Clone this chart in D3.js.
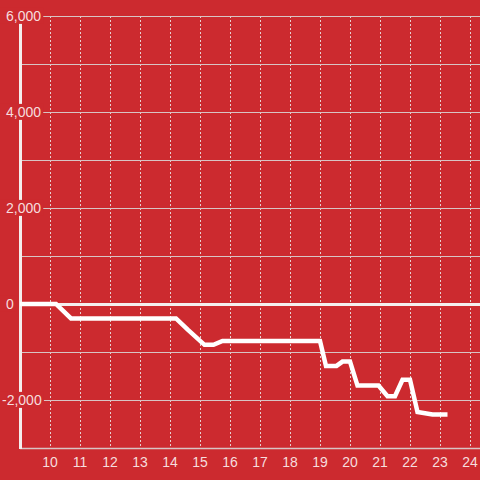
<!DOCTYPE html>
<html>
<head>
<meta charset="utf-8">
<script src="https://cdn.jsdelivr.net/npm/d3@7"></script>
<style>
  body { margin: 0; background: #cc2a2f; }
  svg { display: block; font-family: "Liberation Sans", Arial, sans-serif; }
  .tickLabel { fill: rgba(255,255,255,0.85); font-size: 14px; }
</style>
</head>
<body>
<div id="chart"></div>
<script>
// line values (hour of day -> running total)
var hours = [9, 10.2, 10.7, 14.2, 14.6, 15.15, 15.45, 15.75, 19, 19.2, 19.55, 19.75, 20, 20.25, 20.95, 21.25, 21.5, 21.75, 22, 22.25, 22.75, 23.25];
var totals = [0, 0, -300, -300, -540, -850, -850, -770, -770, -1290, -1290, -1200, -1200, -1700, -1700, -1920, -1920, -1580, -1580, -2250, -2300, -2300];

var xTicks = [10, 11, 12, 13, 14, 15, 16, 17, 18, 19, 20, 21, 22, 23, 24];
var yGrid = [6000, 5000, 4000, 3000, 2000, 1000, 0, -1000, -2000, -3000];
var yLabels = [6000, 4000, 2000, 0, -2000];

var W = 480, H = 480;
var plot = { left: 20, top: 16, bottom: 448 };

var svg = d3.select("#chart").append("svg")
  .attr("width", W)
  .attr("height", H);

svg.append("rect")
  .attr("width", W)
  .attr("height", H)
  .attr("fill", "#cc2a2f");

var x = d3.scaleLinear()
  .domain([9, 9 + (W - plot.left) / 30])
  .range([plot.left, W]);

var y = d3.scaleLinear()
  .domain([-3000, 6000])
  .range([plot.bottom, plot.top]);

// vertical dashed grid
svg.selectAll(".vgrid")
  .data(xTicks)
  .enter()
  .append("line")
  .attr("class", "vgrid")
  .attr("x1", function(d){ return Math.round(x(d)) + 0.5; })
  .attr("x2", function(d){ return Math.round(x(d)) + 0.5; })
  .attr("y1", plot.top)
  .attr("y2", plot.bottom)
  .attr("stroke", "#e6d0d0")
  .attr("stroke-width", 1)
  .attr("stroke-dasharray", "2,2");

// horizontal grid
svg.selectAll(".hgrid")
  .data(yGrid.filter(function(d){ return d !== 0; }))
  .enter()
  .append("line")
  .attr("class", "hgrid")
  .attr("x1", plot.left)
  .attr("x2", W)
  .attr("y1", function(d){ return Math.round(y(d)) + 0.5; })
  .attr("y2", function(d){ return Math.round(y(d)) + 0.5; })
  .attr("stroke", "#d8c4c4")
  .attr("stroke-width", function(d){ return d === -3000 ? 1.5 : 1; });

// zero line
svg.append("line")
  .attr("x1", plot.left)
  .attr("x2", W)
  .attr("y1", y(0) + 0.5)
  .attr("y2", y(0) + 0.5)
  .attr("stroke", "#f4eeee")
  .attr("stroke-width", 3);

// left axis line
svg.append("line")
  .attr("x1", plot.left + 0.5)
  .attr("x2", plot.left + 0.5)
  .attr("y1", plot.top - 4)
  .attr("y2", plot.bottom + 1)
  .attr("stroke", "#f4eeee")
  .attr("stroke-width", 3);

// data line
var line = d3.line()
  .x(function(d, i){ return x(hours[i]); })
  .y(function(d){ return y(d); });

svg.append("path")
  .datum(totals)
  .attr("d", line)
  .attr("fill", "none")
  .attr("stroke", "#ffffff")
  .attr("stroke-width", 4.5)
  .attr("stroke-linejoin", "miter");

// y labels with background boxes
var yLab = svg.selectAll(".ylab")
  .data(yLabels)
  .enter()
  .append("g")
  .attr("class", "ylab");

yLab.append("text")
  .attr("class", "tickLabel")
  .attr("x", function(d){ return d < 0 ? 2 : 6; })
  .attr("y", function(d){ return y(d); })
  .attr("dy", "0.35em")
  .text(function(d){ return d3.format(",")(d).replace("−", "-"); });

yLab.insert("rect", "text")
  .each(function(){
    var bb = this.parentNode.querySelector("text").getBBox();
    d3.select(this)
      .attr("x", 0)
      .attr("y", bb.y)
      .attr("width", bb.x + bb.width + 2)
      .attr("height", bb.height)
      .attr("fill", "#cc2a2f");
  });

// x labels
svg.selectAll(".xlab")
  .data(xTicks)
  .enter()
  .append("text")
  .attr("class", "tickLabel")
  .attr("x", function(d){ return x(d); })
  .attr("y", 467)
  .attr("text-anchor", "middle")
  .text(function(d){ return d; });
</script>
</body>
</html>
